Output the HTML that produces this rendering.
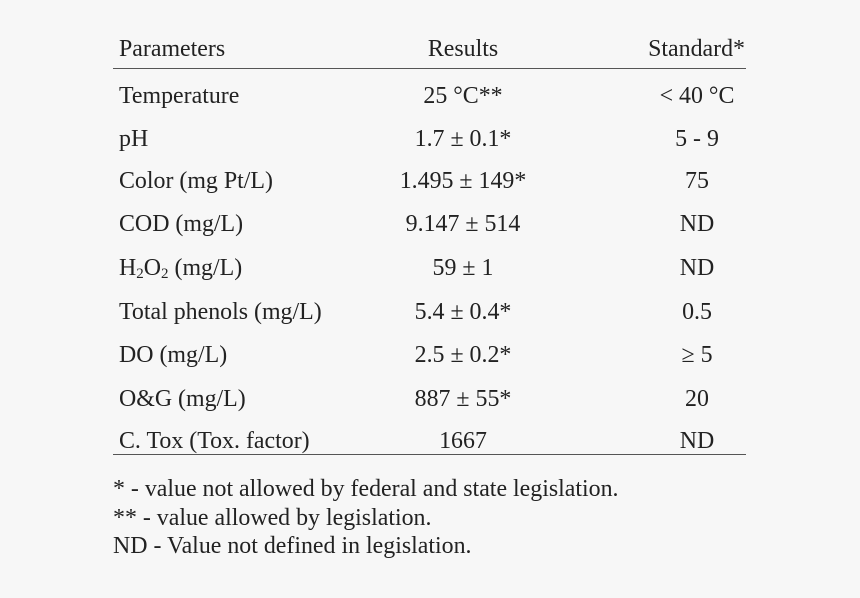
<!DOCTYPE html>
<html><head><style>
body{margin:0;width:860px;height:598px;background:#f7f7f7;font-family:"Liberation Serif","Times New Roman",serif;color:#222;font-size:23.9px;position:relative;overflow:hidden}
.r{position:absolute;left:0;width:860px;height:30px;line-height:30px}
.r span{position:absolute;white-space:nowrap}
.a{left:119px}
.b{left:363px;width:200px;text-align:center}
.c{left:597px;width:200px;text-align:center}
.f{position:absolute;left:113px;white-space:nowrap;line-height:30px}
.line{position:absolute;left:113px;width:633px;height:1px;background:#555}
sub{font-size:15px;vertical-align:-3px;line-height:0}
</style></head><body>
<div class="r" style="top:34px"><span class="a">Parameters</span><span class="b">Results</span><span style="right:115px">Standard*</span></div>
<div class="line" style="top:68px"></div>
<div class="r" style="top:81px"><span class="a">Temperature</span><span class="b">25 °C**</span><span class="c">&lt; 40 °C</span></div>
<div class="r" style="top:124px"><span class="a">pH</span><span class="b">1.7 ± 0.1*</span><span class="c">5 - 9</span></div>
<div class="r" style="top:166px"><span class="a">Color (mg Pt/L)</span><span class="b">1.495 ± 149*</span><span class="c">75</span></div>
<div class="r" style="top:209px"><span class="a">COD (mg/L)</span><span class="b">9.147 ± 514</span><span class="c">ND</span></div>
<div class="r" style="top:253px"><span class="a">H<sub>2</sub>O<sub>2</sub> (mg/L)</span><span class="b">59 ± 1</span><span class="c">ND</span></div>
<div class="r" style="top:297px"><span class="a">Total phenols (mg/L)</span><span class="b">5.4 ± 0.4*</span><span class="c">0.5</span></div>
<div class="r" style="top:340px"><span class="a">DO (mg/L)</span><span class="b">2.5 ± 0.2*</span><span class="c">≥ 5</span></div>
<div class="r" style="top:384px"><span class="a">O&amp;G (mg/L)</span><span class="b">887 ± 55*</span><span class="c">20</span></div>
<div class="r" style="top:426px"><span class="a">C. Tox (Tox. factor)</span><span class="b">1667</span><span class="c">ND</span></div>
<div class="line" style="top:454px"></div>
<div class="f" style="top:474px">* - value not allowed by federal and state legislation.</div>
<div class="f" style="top:503px">** - value allowed by legislation.</div>
<div class="f" style="top:531px">ND - Value not defined in legislation.</div>
</body></html>
